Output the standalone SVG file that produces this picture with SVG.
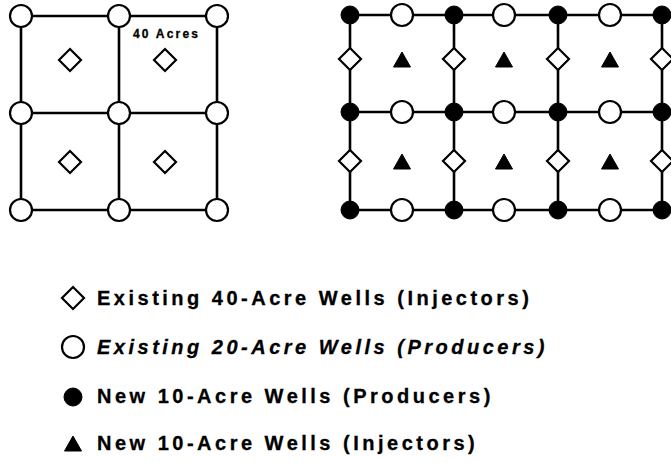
<svg xmlns="http://www.w3.org/2000/svg" xmlns:xlink="http://www.w3.org/1999/xlink" width="671" height="462" viewBox="0 0 671 462">
  <style>
    .grid line { stroke: #000; stroke-width: 2.6; stroke-linecap: square; }
    .open { fill: #fff; stroke: #000; stroke-width: 2.2; }
    .solid { fill: #000; stroke: #000; stroke-width: 1; }
    .lbl { font-family: "Liberation Sans", Arial, sans-serif; font-weight: bold; fill: #000; stroke: #000; stroke-width: 0.3; }
    .legend { font-size: 20px; letter-spacing: 3.5px; }
    .acres { font-size: 12px; letter-spacing: 2.2px; }
  </style>
  <defs>
    <!-- well symbols -->
    <path id="inj40" class="open" d="M0,-11 L11,0 L0,11 L-11,0 Z"/>
    <circle id="prod20" class="open" r="11"/>
    <circle id="prod10" class="solid" r="9"/>
    <path id="inj10" class="solid" d="M0,-8 L8.5,7 L-8.5,7 Z"/>
  </defs>
  <rect width="671" height="462" fill="#fff"/>

  <!-- connectors: pattern grid lines -->
  <g id="connectors" class="grid">
    <!-- 40-acre pattern -->
    <line x1="21" y1="16" x2="217" y2="16"/>
    <line x1="21" y1="113" x2="217" y2="113"/>
    <line x1="21" y1="210" x2="217" y2="210"/>
    <line x1="21" y1="16" x2="21" y2="210"/>
    <line x1="119" y1="16" x2="119" y2="210"/>
    <line x1="217" y1="16" x2="217" y2="210"/>
    <!-- 10-acre infill pattern -->
    <line x1="350" y1="15" x2="671" y2="15"/>
    <line x1="350" y1="112" x2="671" y2="112"/>
    <line x1="350" y1="210" x2="671" y2="210"/>
    <line x1="350" y1="15" x2="350" y2="210"/>
    <line x1="454" y1="15" x2="454" y2="210"/>
    <line x1="558" y1="15" x2="558" y2="210"/>
    <line x1="662" y1="15" x2="662" y2="210"/>
  </g>

  <!-- 40-acre pattern wells -->
  <g id="p40-c11"><use xlink:href="#prod20" x="21" y="16"/></g>
  <g id="p40-c12"><use xlink:href="#prod20" x="119" y="16"/></g>
  <g id="p40-c13"><use xlink:href="#prod20" x="217" y="16"/></g>
  <g id="p40-c21"><use xlink:href="#prod20" x="21" y="113"/></g>
  <g id="p40-c22"><use xlink:href="#prod20" x="119" y="113"/></g>
  <g id="p40-c23"><use xlink:href="#prod20" x="217" y="113"/></g>
  <g id="p40-c31"><use xlink:href="#prod20" x="21" y="210"/></g>
  <g id="p40-c32"><use xlink:href="#prod20" x="119" y="210"/></g>
  <g id="p40-c33"><use xlink:href="#prod20" x="217" y="210"/></g>
  <g id="p40-d11"><use xlink:href="#inj40" x="70" y="60"/></g>
  <g id="p40-d12"><use xlink:href="#inj40" x="165" y="60"/></g>
  <g id="p40-d21"><use xlink:href="#inj40" x="70" y="162"/></g>
  <g id="p40-d22"><use xlink:href="#inj40" x="165" y="162"/></g>
  <g id="p40-label"><text class="lbl acres" x="133" y="38">40 Acres</text></g>

  <!-- 10-acre infill pattern wells -->
  <g id="p10-f11"><use xlink:href="#prod10" x="350" y="15"/></g>
  <g id="p10-f12"><use xlink:href="#prod10" x="454" y="15"/></g>
  <g id="p10-f13"><use xlink:href="#prod10" x="558" y="15"/></g>
  <g id="p10-f14"><use xlink:href="#prod10" x="662" y="15"/></g>
  <g id="p10-f21"><use xlink:href="#prod10" x="350" y="112"/></g>
  <g id="p10-f22"><use xlink:href="#prod10" x="454" y="112"/></g>
  <g id="p10-f23"><use xlink:href="#prod10" x="558" y="112"/></g>
  <g id="p10-f24"><use xlink:href="#prod10" x="662" y="112"/></g>
  <g id="p10-f31"><use xlink:href="#prod10" x="350" y="210"/></g>
  <g id="p10-f32"><use xlink:href="#prod10" x="454" y="210"/></g>
  <g id="p10-f33"><use xlink:href="#prod10" x="558" y="210"/></g>
  <g id="p10-f34"><use xlink:href="#prod10" x="662" y="210"/></g>

  <g id="p10-o11"><use xlink:href="#prod20" x="402" y="15"/></g>
  <g id="p10-o12"><use xlink:href="#prod20" x="504" y="15"/></g>
  <g id="p10-o13"><use xlink:href="#prod20" x="610" y="15"/></g>
  <g id="p10-o21"><use xlink:href="#prod20" x="402" y="112"/></g>
  <g id="p10-o22"><use xlink:href="#prod20" x="504" y="112"/></g>
  <g id="p10-o23"><use xlink:href="#prod20" x="610" y="112"/></g>
  <g id="p10-o31"><use xlink:href="#prod20" x="402" y="210"/></g>
  <g id="p10-o32"><use xlink:href="#prod20" x="504" y="210"/></g>
  <g id="p10-o33"><use xlink:href="#prod20" x="610" y="210"/></g>

  <g id="p10-d11"><use xlink:href="#inj40" x="350" y="59"/></g>
  <g id="p10-d12"><use xlink:href="#inj40" x="454" y="59"/></g>
  <g id="p10-d13"><use xlink:href="#inj40" x="558" y="59"/></g>
  <g id="p10-d14"><use xlink:href="#inj40" x="662" y="59"/></g>
  <g id="p10-d21"><use xlink:href="#inj40" x="350" y="161"/></g>
  <g id="p10-d22"><use xlink:href="#inj40" x="454" y="161"/></g>
  <g id="p10-d23"><use xlink:href="#inj40" x="558" y="161"/></g>
  <g id="p10-d24"><use xlink:href="#inj40" x="662" y="161"/></g>

  <g id="p10-t11"><use xlink:href="#inj10" x="402" y="60"/></g>
  <g id="p10-t12"><use xlink:href="#inj10" x="504" y="60"/></g>
  <g id="p10-t13"><use xlink:href="#inj10" x="610" y="60"/></g>
  <g id="p10-t21"><use xlink:href="#inj10" x="402" y="162"/></g>
  <g id="p10-t22"><use xlink:href="#inj10" x="504" y="162"/></g>
  <g id="p10-t23"><use xlink:href="#inj10" x="610" y="162"/></g>

  <!-- legend -->
  <g id="legend-inj40">
    <use xlink:href="#inj40" x="73" y="298"/>
    <text class="lbl legend" x="97" y="305">Existing 40-Acre Wells (Injectors)</text>
  </g>
  <g id="legend-prod20">
    <use xlink:href="#prod20" x="73" y="347"/>
    <text class="lbl legend" x="97" y="354" font-style="italic">Existing 20-Acre Wells (Producers)</text>
  </g>
  <g id="legend-prod10">
    <use xlink:href="#prod10" x="73" y="397"/>
    <text class="lbl legend" x="97" y="403">New 10-Acre Wells (Producers)</text>
  </g>
  <g id="legend-inj10">
    <use xlink:href="#inj10" x="73" y="444"/>
    <text class="lbl legend" x="97" y="450">New 10-Acre Wells (Injectors)</text>
  </g>
</svg>
